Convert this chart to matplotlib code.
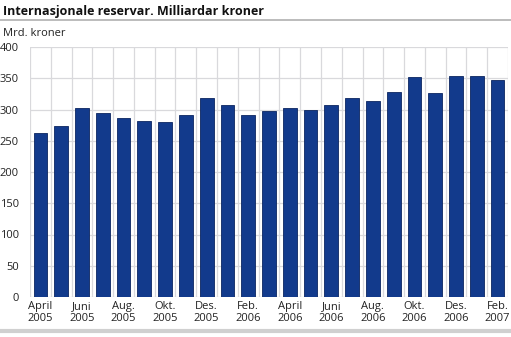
import matplotlib
matplotlib.use("Agg")
import matplotlib.pyplot as plt
from matplotlib.lines import Line2D
import numpy as np

months = ["April 2005", "Mai 2005", "Juni 2005", "Juli 2005", "Aug. 2005", "Sep. 2005",
          "Okt. 2005", "Nov. 2005", "Des. 2005", "Jan. 2006", "Feb. 2006", "Mars 2006",
          "April 2006", "Mai 2006", "Juni 2006", "Juli 2006", "Aug. 2006", "Sep. 2006",
          "Okt. 2006", "Nov. 2006", "Des. 2006", "Jan. 2007", "Feb. 2007"]
values = [262, 274, 303, 294, 286, 281, 280, 292, 318, 308, 291, 297,
          302, 299, 308, 319, 313, 328, 352, 326, 354, 353, 347]
tick_labels = ["April\n2005", "Juni\n2005", "Aug.\n2005", "Okt.\n2005", "Des.\n2005",
               "Feb.\n2006", "April\n2006", "Juni\n2006", "Aug.\n2006", "Okt.\n2006",
               "Des.\n2006", "Feb.\n2007"]

plt.rcParams['font.family'] = ['Open Sans', 'DejaVu Sans']

fig = plt.figure(figsize=(5.11, 3.37), dpi=100)
ax = fig.add_axes([30/511, 1-297/337, 478/511, 250/337])

x = np.arange(len(values))
ax.bar(x, values, width=0.66, color="#123a8c", edgecolor="#0b2560", linewidth=0.6, zorder=3)

ax.set_xlim(-0.5, len(values)-0.5)
ax.set_ylim(0, 400)
ax.set_yticks(np.arange(0, 401, 50))
ax.set_xticks(x[::2])
ax.set_xticklabels(tick_labels, fontsize=8, color="#222222", linespacing=1.1)
for t in ax.get_xticklabels():
    t.set_multialignment('center')
    t.set_horizontalalignment('center')
ax.tick_params(axis='y', labelsize=8, labelcolor="#222222", length=0, pad=8)
ax.tick_params(axis='x', length=0, pad=3)

ax.set_xticks(np.arange(-0.5, len(values), 1), minor=True)
ax.tick_params(axis='x', which='minor', length=0)
ax.grid(True, axis='x', which='minor', color="#d9d9dc", linewidth=0.9, zorder=0)
ax.grid(True, axis='y', which='major', color="#d9d9dc", linewidth=0.9, zorder=0)
for s in ax.spines.values():
    s.set_visible(False)

fig.text(3/511, 1-12/337, "Internasjonale reservar. Milliardar kroner", fontsize=9,
         fontweight='bold', va='center', ha='left', color="#111111")
fig.add_artist(Line2D([0, 1], [1-20/337, 1-20/337], color="#b0b0b0", linewidth=1.2))
fig.text(3/511, 1-33/337, "Mrd. kroner", fontsize=8, va='center', ha='left', color="#222222")
fig.add_artist(Line2D([0, 1], [1-331/337, 1-331/337], color="#d0d0d0", linewidth=3))

fig.savefig("out.png", dpi=100)
